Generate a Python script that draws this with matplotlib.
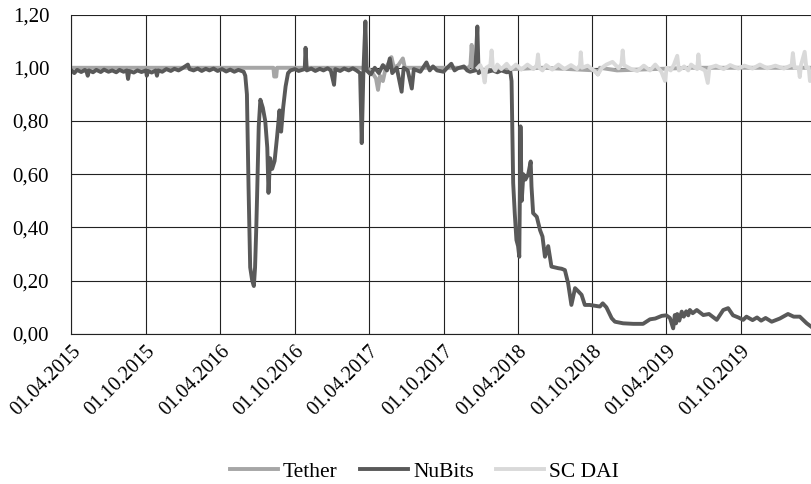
import matplotlib
matplotlib.use("Agg")
import matplotlib.pyplot as plt
import matplotlib.dates as mdates
import matplotlib.ticker as mticker
import pandas as pd

plt.rcParams['font.family'] = ['Liberation Serif', 'DejaVu Serif']

# prices (USD)
tether = [
    ("2015-04-01", 1.0), ("2016-08-09", 1.0), ("2016-08-11", 0.967), ("2016-08-16", 0.967),
    ("2016-08-18", 1.0), ("2017-03-25", 1.0), ("2017-04-05", 0.99), ("2017-04-18", 0.96),
    ("2017-04-23", 0.917), ("2017-04-28", 0.97), ("2017-05-05", 0.95), ("2017-05-12", 1.0),
    ("2017-05-20", 1.02), ("2017-05-26", 1.04), ("2017-06-01", 1.0), ("2017-06-12", 1.01),
    ("2017-06-23", 1.035), ("2017-06-28", 1.0), ("2017-08-01", 1.0), ("2017-12-01", 1.0),
    ("2017-12-06", 1.01), ("2017-12-09", 1.086), ("2017-12-12", 1.0), ("2018-01-15", 0.99),
    ("2018-06-01", 1.0), ("2018-10-10", 0.99), ("2018-10-15", 0.975), ("2018-10-20", 1.0),
    ("2018-12-01", 0.99), ("2019-06-01", 1.0), ("2020-03-24", 1.0),
]

nubits = [
    ("2015-04-01", 0.99), ("2015-04-08", 0.98), ("2015-04-15", 0.992), ("2015-04-25", 0.984),
    ("2015-05-04", 0.992), ("2015-05-08", 0.986), ("2015-05-11", 0.97), ("2015-05-14", 0.99),
    ("2015-05-24", 0.983), ("2015-06-01", 0.992), ("2015-06-12", 0.984), ("2015-06-20", 0.993),
    ("2015-07-01", 0.985), ("2015-07-10", 0.99), ("2015-07-20", 0.983), ("2015-07-28", 0.992),
    ("2015-08-07", 0.985), ("2015-08-15", 0.99), ("2015-08-18", 0.958), ("2015-08-21", 0.988),
    ("2015-09-01", 0.982), ("2015-09-10", 0.99), ("2015-09-20", 0.984), ("2015-10-01", 0.99),
    ("2015-10-03", 0.97), ("2015-10-06", 0.988), ("2015-10-15", 0.982), ("2015-10-25", 0.99),
    ("2015-10-28", 0.97), ("2015-10-31", 0.99), ("2015-11-10", 0.985), ("2015-11-20", 0.995),
    ("2015-12-01", 0.988), ("2015-12-10", 0.996), ("2015-12-20", 0.99), ("2015-12-28", 0.997),
    ("2016-01-12", 1.012), ("2016-01-16", 0.995), ("2016-01-26", 0.99), ("2016-02-05", 0.997),
    ("2016-02-15", 0.988), ("2016-02-25", 0.996), ("2016-03-05", 0.99), ("2016-03-15", 0.997),
    ("2016-03-25", 0.988), ("2016-04-05", 0.995), ("2016-04-15", 0.986), ("2016-04-25", 0.993),
    ("2016-05-05", 0.985), ("2016-05-15", 0.992), ("2016-05-28", 0.985),
    ("2016-06-01", 0.97), ("2016-06-05", 0.90), ("2016-06-09", 0.55), ("2016-06-13", 0.25),
    ("2016-06-18", 0.20), ("2016-06-22", 0.18), ("2016-06-25", 0.25), ("2016-06-28", 0.40),
    ("2016-06-30", 0.52), ("2016-07-04", 0.78), ("2016-07-08", 0.88), ("2016-07-14", 0.85),
    ("2016-07-20", 0.80), ("2016-07-25", 0.70), ("2016-07-28", 0.53), ("2016-08-01", 0.66),
    ("2016-08-06", 0.62), ("2016-08-12", 0.65), ("2016-08-18", 0.74), ("2016-08-24", 0.84),
    ("2016-08-28", 0.76), ("2016-09-02", 0.85), ("2016-09-08", 0.93), ("2016-09-14", 0.98),
    ("2016-09-20", 0.99), ("2016-10-01", 0.995), ("2016-10-10", 0.988), ("2016-10-25", 0.995),
    ("2016-10-27", 1.075), ("2016-10-30", 0.99), ("2016-11-10", 0.997), ("2016-11-20", 0.988),
    ("2016-12-01", 0.996), ("2016-12-10", 0.99), ("2016-12-20", 0.998), ("2016-12-28", 0.99),
    ("2017-01-05", 0.936), ("2017-01-08", 0.995), ("2017-01-20", 0.988), ("2017-01-30", 0.997),
    ("2017-02-10", 0.99), ("2017-02-20", 0.998), ("2017-03-01", 0.99),
    ("2017-03-10", 0.98), ("2017-03-14", 0.717), ("2017-03-18", 0.98), ("2017-03-23", 1.174),
    ("2017-03-26", 0.99), ("2017-04-05", 0.975), ("2017-04-15", 1.0), ("2017-04-25", 0.98),
    ("2017-05-05", 1.01), ("2017-05-15", 0.99), ("2017-05-22", 1.035), ("2017-05-28", 0.98),
    ("2017-06-08", 1.0), ("2017-06-20", 0.91), ("2017-06-25", 1.0), ("2017-07-05", 0.99),
    ("2017-07-15", 0.922), ("2017-07-20", 0.995), ("2017-08-05", 0.985), ("2017-08-20", 1.02),
    ("2017-08-28", 0.99), ("2017-09-05", 1.005), ("2017-09-15", 0.99), ("2017-10-01", 0.985),
    ("2017-10-10", 1.0), ("2017-10-20", 1.015), ("2017-10-28", 0.99), ("2017-11-05", 0.998),
    ("2017-11-20", 1.005), ("2017-11-28", 0.99), ("2017-12-05", 0.985), ("2017-12-18", 0.99),
    ("2017-12-23", 1.155), ("2017-12-26", 0.98), ("2018-01-05", 0.992), ("2018-01-15", 0.984),
    ("2018-01-30", 0.99), ("2018-02-10", 0.983), ("2018-02-20", 0.99), ("2018-03-05", 0.983),
    ("2018-03-14", 0.985), ("2018-03-17", 0.95), ("2018-03-21", 0.567),
    ("2018-03-25", 0.45), ("2018-03-29", 0.353), ("2018-04-02", 0.33), ("2018-04-05", 0.29),
    ("2018-04-08", 0.78), ("2018-04-11", 0.50), ("2018-04-15", 0.60), ("2018-04-20", 0.58),
    ("2018-04-27", 0.60), ("2018-05-03", 0.648), ("2018-05-05", 0.554), ("2018-05-09", 0.454),
    ("2018-05-18", 0.44), ("2018-05-26", 0.39), ("2018-06-01", 0.366), ("2018-06-07", 0.29),
    ("2018-06-15", 0.33), ("2018-06-23", 0.253), ("2018-07-01", 0.25), ("2018-07-10", 0.247),
    ("2018-07-18", 0.245), ("2018-07-26", 0.24), ("2018-08-03", 0.19), ("2018-08-11", 0.109),
    ("2018-08-20", 0.172), ("2018-08-28", 0.16), ("2018-09-05", 0.147), ("2018-09-13", 0.109),
    ("2018-09-25", 0.109), ("2018-10-20", 0.103), ("2018-10-27", 0.115), ("2018-11-05", 0.10),
    ("2018-11-18", 0.059), ("2018-11-26", 0.046), ("2018-12-16", 0.040), ("2019-01-10", 0.038),
    ("2019-02-03", 0.038), ("2019-02-20", 0.055), ("2019-03-05", 0.058), ("2019-03-21", 0.068),
    ("2019-04-01", 0.07), ("2019-04-10", 0.06), ("2019-04-18", 0.021), ("2019-04-22", 0.071),
    ("2019-04-25", 0.04), ("2019-04-28", 0.075), ("2019-05-03", 0.05), ("2019-05-09", 0.084),
    ("2019-05-14", 0.065), ("2019-05-20", 0.085), ("2019-05-25", 0.07), ("2019-05-29", 0.09),
    ("2019-06-05", 0.078), ("2019-06-15", 0.09), ("2019-07-01", 0.071),
    ("2019-07-15", 0.075), ("2019-08-03", 0.053), ("2019-08-19", 0.09), ("2019-08-31", 0.097),
    ("2019-09-12", 0.07), ("2019-09-25", 0.062), ("2019-10-07", 0.053), ("2019-10-15", 0.065),
    ("2019-10-30", 0.052), ("2019-11-10", 0.062), ("2019-11-20", 0.05), ("2019-12-01", 0.06),
    ("2019-12-16", 0.046), ("2020-01-05", 0.058), ("2020-01-25", 0.075),
    ("2020-02-08", 0.065), ("2020-02-23", 0.065), ("2020-03-11", 0.04), ("2020-03-24", 0.025),
]

sc_dai = [
    ("2017-12-24", 1.0), ("2017-12-30", 1.01), ("2018-01-05", 0.99), ("2018-01-10", 0.945),
    ("2018-01-14", 1.0), ("2018-01-24", 1.01), ("2018-01-27", 1.065), ("2018-01-30", 1.005),
    ("2018-02-05", 0.99), ("2018-02-10", 1.012), ("2018-02-20", 0.995), ("2018-03-05", 1.015),
    ("2018-03-15", 0.995), ("2018-03-28", 1.012), ("2018-04-10", 0.993), ("2018-04-25", 1.012),
    ("2018-05-10", 0.995), ("2018-05-18", 1.01), ("2018-05-21", 1.05), ("2018-05-24", 1.0),
    ("2018-06-01", 0.99), ("2018-06-10", 1.01), ("2018-06-25", 0.993), ("2018-07-10", 1.012),
    ("2018-07-25", 0.995), ("2018-08-10", 1.01), ("2018-08-25", 0.995), ("2018-09-01", 1.01),
    ("2018-09-03", 1.058), ("2018-09-06", 1.0), ("2018-09-20", 1.008), ("2018-10-05", 0.99),
    ("2018-10-15", 0.975), ("2018-10-25", 1.0), ("2018-11-05", 1.012), ("2018-11-20", 1.022),
    ("2018-12-05", 0.998), ("2018-12-12", 1.015), ("2018-12-15", 1.065), ("2018-12-18", 1.01),
    ("2019-01-05", 0.995), ("2019-01-20", 0.988), ("2019-02-05", 1.008), ("2019-02-20", 0.99),
    ("2019-03-05", 1.012), ("2019-03-20", 0.985), ("2019-03-29", 0.95), ("2019-04-02", 1.0),
    ("2019-04-12", 0.99), ("2019-04-20", 1.012), ("2019-04-28", 1.045), ("2019-05-02", 0.99),
    ("2019-05-15", 1.005), ("2019-05-25", 0.99), ("2019-06-01", 1.012), ("2019-06-16", 0.995),
    ("2019-06-19", 1.05), ("2019-06-22", 1.0), ("2019-07-05", 0.99), ("2019-07-12", 0.943),
    ("2019-07-16", 1.0), ("2019-08-01", 1.008), ("2019-08-20", 0.995), ("2019-09-05", 1.01),
    ("2019-09-25", 0.997), ("2019-10-10", 1.008), ("2019-10-30", 0.997), ("2019-11-17", 1.012),
    ("2019-12-05", 0.998), ("2019-12-25", 1.008), ("2020-01-15", 0.997), ("2020-02-03", 1.01),
    ("2020-02-06", 1.055), ("2020-02-10", 1.0), ("2020-02-20", 1.0), ("2020-02-23", 0.965),
    ("2020-02-26", 1.01), ("2020-03-06", 1.06), ("2020-03-10", 1.0), ("2020-03-16", 1.0),
    ("2020-03-19", 0.95), ("2020-03-24", 0.97),
]

series = [("Tether", tether, "#a6a6a6"), ("NuBits", nubits, "#595959"), ("SC DAI", sc_dai, "#d9d9d9")]

fig = plt.figure(figsize=(8.12, 4.84), dpi=100)
ax = fig.add_axes([0.088, 0.31, 0.912, 0.66])

for name, data, color in series:
    dates = pd.to_datetime([d for d, v in data])
    vals = [v for d, v in data]
    ax.plot(dates, vals, color=color, lw=2.8, label=name)

ax.set_ylim(0, 1.2)
ax.set_xlim(pd.Timestamp("2015-04-01"), pd.Timestamp("2020-03-24"))
ax.yaxis.set_major_locator(mticker.MultipleLocator(0.2))
ax.yaxis.set_major_formatter(mticker.FuncFormatter(lambda v, p: f"{v:.2f}".replace(".", ",")))
ax.xaxis.set_major_locator(mdates.MonthLocator(bymonth=[4, 10], bymonthday=1))
ax.xaxis.set_major_formatter(mdates.DateFormatter("%d.%m.%Y"))

ax.grid(True, color="#222222", lw=0.8)
ax.set_axisbelow(True)
for s in ["top", "right"]:
    ax.spines[s].set_visible(False)
ax.spines["left"].set_color("#222222")
ax.spines["bottom"].set_color("#222222")
ax.tick_params(axis="y", length=0, labelsize=15, pad=16)
ax.tick_params(axis="x", length=0, labelsize=14.5, pad=6)
plt.setp(ax.get_xticklabels(), rotation=45, ha="right", rotation_mode="anchor")

fig.legend(loc="center", bbox_to_anchor=(0.523, 0.025), ncol=3, frameon=False,
           fontsize=15.5, handlelength=2.2, columnspacing=1.05, handletextpad=0.25)

fig.savefig("out.png", dpi=100)
